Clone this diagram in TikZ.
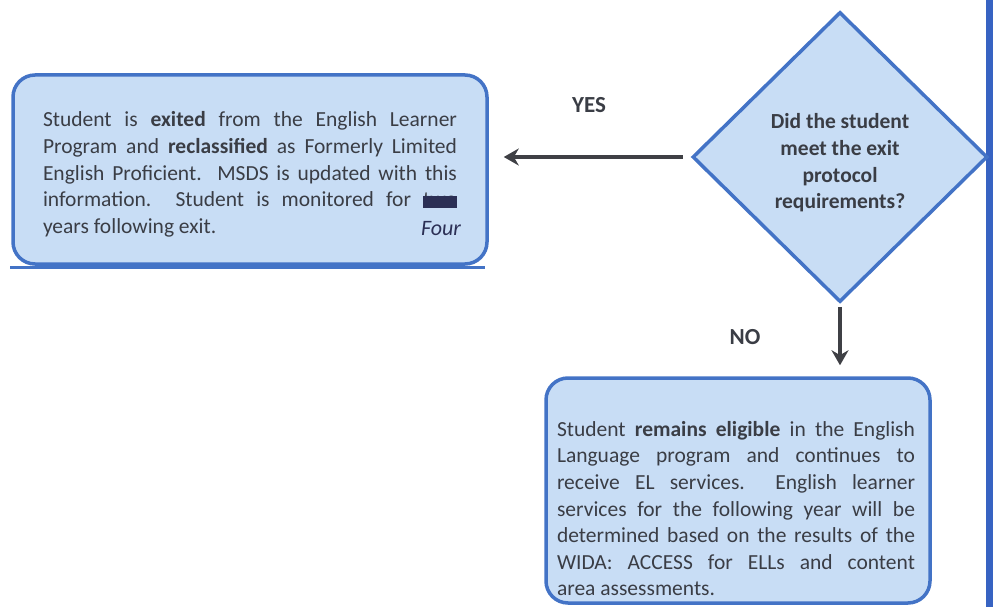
\documentclass[tikz,border=0pt]{standalone}
\usepackage{fontspec}
\setmainfont{Carlito}
\usetikzlibrary{shapes.geometric,positioning,arrows.meta}
\tikzset{>={Stealth[length=15pt,width=17pt]}}
\definecolor{boxfill}{HTML}{C8DDF5}
\definecolor{boxline}{HTML}{4373C6}
\definecolor{arrowgray}{HTML}{3F4045}
\definecolor{textgray}{HTML}{3A3D45}
\definecolor{inkblue}{HTML}{2B2F55}
\definecolor{sidebar}{HTML}{3763C2}
% crossed-out word, inked over by hand
\newlength\scrawlwd
\newcommand\scrawl[1]{\settowidth\scrawlwd{#1}%
    \rlap{#1}\textcolor{inkblue}{\rule[-1pt]{\scrawlwd}{12pt}}}

\begin{document}
\begin{tikzpicture}[x=1pt,y=-1pt,
box/.style = {
    draw=boxline, fill=boxfill,
    line width=3.5pt, rounded corners=22pt,
                            },
bodytext/.style = {
    text=textgray, inner sep=0pt, align=justify,
    font=\fontsize{21.5}{26.6}\selectfont,
                            },
answer/.style = {
    text=textgray,
    font=\fontsize{23}{27}\selectfont\bfseries,
                            },
flow/.style = {
    ->, draw=arrowgray, line width=4.5pt,
                            },
                    ]
\useasboundingbox (0,0) rectangle (993,607);
\fill[sidebar] (986,0) rectangle (993,607);

% exit branch
\node[box, minimum width=474pt, minimum height=189pt] (exitbox) at (250,169.5) {};
\draw[boxline, line width=2.5pt]
    ([xshift=-1pt,yshift=-1.5pt]exitbox.south west)
                              -- ([xshift=-4pt,yshift=-1.5pt]exitbox.south east);
\node[bodytext, text width=414pt] (exittext) at ([yshift=-5pt]exitbox.center)
{Student is \textbf{exited} from the English Learner\linebreak
Program and \textbf{reclassified} as Formerly Limited\linebreak
English Proficient.\ \ MSDS is updated with this\linebreak
information.\ \ Student is monitored for \scrawl{two}\linebreak
years following exit.};
\node[text=inkblue, font=\fontsize{22}{22}\selectfont\itshape]
    (four) at (441,229) {Four};

% decision
\node[diamond, draw=boxline, fill=boxfill, line width=3.5pt,
      minimum width=295pt, minimum height=290pt, inner sep=0pt] (question) at (840,157) {};
\node[align=center, text=textgray, inner sep=0pt,
      font=\fontsize{21.5}{26.6}\selectfont\bfseries] (asktext) at ([yshift=-6pt]question.center)
{Did the student\\ meet the exit\\ protocol\\ requirements?};

% stay branch
\node[box, minimum width=384pt, minimum height=225pt] (staybox) at (738,490.5) {};
\node[bodytext, text width=358pt, anchor=north] (staytext) at (736,421)
{Student \textbf{remains eligible} in the English\linebreak
Language program and continues to\linebreak
receive EL services.\ \ English learner\linebreak
services for the following year will be\linebreak
determined based on the results of the\linebreak
WIDA: ACCESS for ELLs and content\linebreak
area assessments.};

\node[answer] (yes) at (589,105) {YES};
\node[answer] (no) at (745,337) {NO};

\draw[flow] ([xshift=-8pt]question.west)
    -- (exitbox.east |- question.west) [shorten >=15pt];
\draw[flow, shorten <=3pt, shorten >=11pt]
    (question.south) -- (question.south |- staybox.north);
\end{tikzpicture}
\end{document}
